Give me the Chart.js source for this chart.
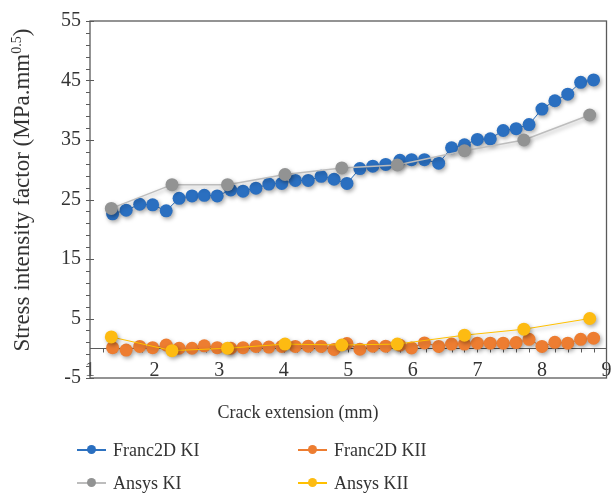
<!DOCTYPE html>
<html>
<head>
<meta charset="utf-8">
<script src="https://cdn.jsdelivr.net/npm/chart.js@4/dist/chart.umd.min.js"></script>
<style>
  body { margin: 0; background: #fff; }
  #wrap { position: relative; width: 613px; height: 496px; font-family: 'Liberation Serif', serif; color: #333; }
  #wrap canvas { position: absolute; left: 0; top: 0; }
  .ytitle { position: absolute; left: -158px; top: 177px; width: 360px; height: 26px; line-height: 26px;
            text-align: center; font-size: 23px; transform: rotate(-90deg); white-space: nowrap; }
  .ytitle sup { font-size: 14px; vertical-align: 8px; line-height: 0; }
  .xtitle { position: absolute; left: 148px; top: 400px; width: 300px; text-align: center; font-size: 18px; line-height: 24px; }
  .leg { position: absolute; height: 24px; line-height: 24px; font-size: 18px; white-space: nowrap; }
  .leg i { position: absolute; left: 0; top: 11px; width: 29px; height: 2px; }
  .leg b { position: absolute; left: 10px; top: 7px; width: 9px; height: 9px; border-radius: 50%; }
  .leg span { position: absolute; left: 36px; top: 0; }
</style>
</head>
<body>
<div id="wrap">
  <canvas id="chart" width="613" height="496"></canvas>
  <div class="ytitle">Stress intensity factor (MPa.mm<sup>0.5</sup>)</div>
  <div class="xtitle">Crack extension (mm)</div>
  <div id="legend"></div>
</div>
<script>
// --- DATA ---
const franc2dX = [1.35, 1.56, 1.77, 1.97, 2.18, 2.38, 2.58, 2.77, 2.97, 3.18, 3.37, 3.57, 3.77, 3.97, 4.18, 4.38, 4.58, 4.78, 4.98,
                  5.18, 5.38, 5.58, 5.80, 5.98, 6.18, 6.40, 6.60, 6.80, 7.00, 7.20, 7.40, 7.60, 7.80, 8.00, 8.20, 8.40, 8.60, 8.80];
const franc2dKI = [22.6, 23.2, 24.2, 24.1, 23.1, 25.2, 25.6, 25.7, 25.6, 26.6, 26.4, 26.9, 27.6, 27.7, 28.2, 28.2, 28.9, 28.4, 27.7,
                   30.2, 30.6, 30.9, 31.6, 31.7, 31.7, 31.1, 33.7, 34.2, 35.1, 35.2, 36.6, 36.9, 37.6, 40.2, 41.6, 42.7, 44.7, 45.1];
const franc2dKII = [0.1, -0.3, 0.3, 0.1, 0.55, 0.0, 0.0, 0.4, 0.1, 0.0, 0.1, 0.3, 0.2, 0.3, 0.3, 0.35, 0.3, -0.2, 0.8,
                    -0.15, 0.35, 0.35, 0.5, 0.05, 0.9, 0.3, 0.7, 0.7, 0.85, 0.85, 0.85, 0.95, 1.5, 0.3, 1.0, 0.85, 1.5, 1.7];
const ansysX = [1.33, 2.27, 3.13, 4.02, 4.90, 5.76, 6.80, 7.72, 8.74];
const ansysKI = [23.5, 27.5, 27.5, 29.2, 30.3, 30.8, 33.2, 35.0, 39.2];
const ansysKII = [1.9, -0.4, 0.0, 0.7, 0.55, 0.7, 2.2, 3.2, 5.0];

const xTickLabels = [1, 2, 3, 4, 5, 6, 7, 8, 9];
const yTickLabels = [-5, 5, 15, 25, 35, 45, 55];

const series = [
    { label: 'Franc2D KI',  x: franc2dX, y: franc2dKI,  color: '#2a6fc0', line: '#2e72c0', width: 1,   order: 3 },
    { label: 'Franc2D KII', x: franc2dX, y: franc2dKII, color: '#ed7d31', line: '#ed7d31', width: 1,   order: 2 },
    { label: 'Ansys KI',    x: ansysX,   y: ansysKI,    color: '#929393', line: '#bdbdbd', width: 1.5, order: 1 },
    { label: 'Ansys KII',   x: ansysX,   y: ansysKII,   color: '#fdbb12', line: '#ffc000', width: 1,   order: 0 }
];

// --- PLUGINS ---
const frame = {
    id: 'frame',
    beforeDatasetsDraw(chart) {
        const { ctx, chartArea: a, scales: { x, y } } = chart;
        ctx.save();
        ctx.strokeStyle = '#5a5a5a';
        ctx.lineWidth = 1.3;
        ctx.strokeRect(a.left, a.top, a.right - a.left, a.bottom - a.top);

        ctx.lineWidth = 1;
        ctx.beginPath();
        for (let v = yTickLabels[0]; v <= yTickLabels[yTickLabels.length - 1]; v += 2) {
            const py = Math.round(y.getPixelForValue(v)) + 0.5;
            const major = yTickLabels.includes(v);
            ctx.moveTo(a.left - 4, py);
            ctx.lineTo(a.left + (major ? 4 : 0), py);
        }
        const y0 = Math.round(y.getPixelForValue(0)) + 0.5;
        ctx.moveTo(a.left, y0);
        ctx.lineTo(a.right, y0);
        const x0 = xTickLabels[0], x1 = xTickLabels[xTickLabels.length - 1];
        for (let i = 1; i < (x1 - x0) * 5; i++) {
            const px = Math.round(x.getPixelForValue(x0 + i * 0.2)) + 0.5;
            ctx.moveTo(px, y0);
            ctx.lineTo(px, y0 + 4);
        }
        ctx.stroke();
        ctx.restore();
    }
};

const shadow = {
    id: 'shadow',
    beforeDatasetDraw(chart) {
        const ctx = chart.ctx;
        ctx.save();
        ctx.shadowColor = 'rgba(0,0,0,0.35)';
        ctx.shadowBlur = 4;
        ctx.shadowOffsetX = 1.5;
        ctx.shadowOffsetY = 2;
    },
    afterDatasetDraw(chart) {
        chart.ctx.restore();
    }
};

// --- CHART ---
new Chart(document.getElementById('chart'), {
    type: 'scatter',
    data: {
        datasets: series.map(s => ({
            label: s.label,
            data: s.x.map((v, i) => ({ x: v, y: s.y[i] })),
            showLine: true,
            borderColor: s.line,
            borderWidth: s.width,
            backgroundColor: s.color,
            pointBackgroundColor: s.color,
            pointBorderColor: s.color,
            pointBorderWidth: 0,
            pointRadius: 6.5,
            order: s.order
        }))
    },
    options: {
        responsive: false,
        animation: false,
        layout: { padding: { left: 0, top: 18, right: 2, bottom: 118 } },
        plugins: { legend: { display: false }, tooltip: { enabled: false } },
        scales: {
            x: {
                type: 'linear',
                position: { y: 0 },
                min: 1, max: 9,
                afterBuildTicks: s => { s.ticks = xTickLabels.map(v => ({ value: v })); },
                afterFit: s => { s.paddingLeft = 0; s.paddingRight = 0; },
                grid: { display: false, drawTicks: false },
                border: { display: false },
                ticks: { color: '#333', padding: 10, maxRotation: 0, autoSkip: false,
                         font: { family: 'Liberation Serif', size: 20 } }
            },
            y: {
                min: -5, max: 55,
                afterBuildTicks: s => { s.ticks = yTickLabels.map(v => ({ value: v })); },
                afterFit: s => { s.width = 90; },
                grid: { display: false, drawTicks: false },
                border: { display: false },
                ticks: { color: '#333', padding: 9, font: { family: 'Liberation Serif', size: 20 } }
            }
        }
    },
    plugins: [frame, shadow]
});

// --- LEGEND ---
const legendPos = [[77, 438], [298, 438], [77, 471], [298, 471]];
const legend = document.getElementById('legend');
series.forEach((s, i) => {
    const el = document.createElement('div');
    el.className = 'leg';
    el.style.left = legendPos[i][0] + 'px';
    el.style.top = legendPos[i][1] + 'px';
    el.innerHTML = `<i style="background:${s.line}"></i><b style="background:${s.color}"></b><span>${s.label}</span>`;
    legend.appendChild(el);
});
</script>
</body>
</html>
